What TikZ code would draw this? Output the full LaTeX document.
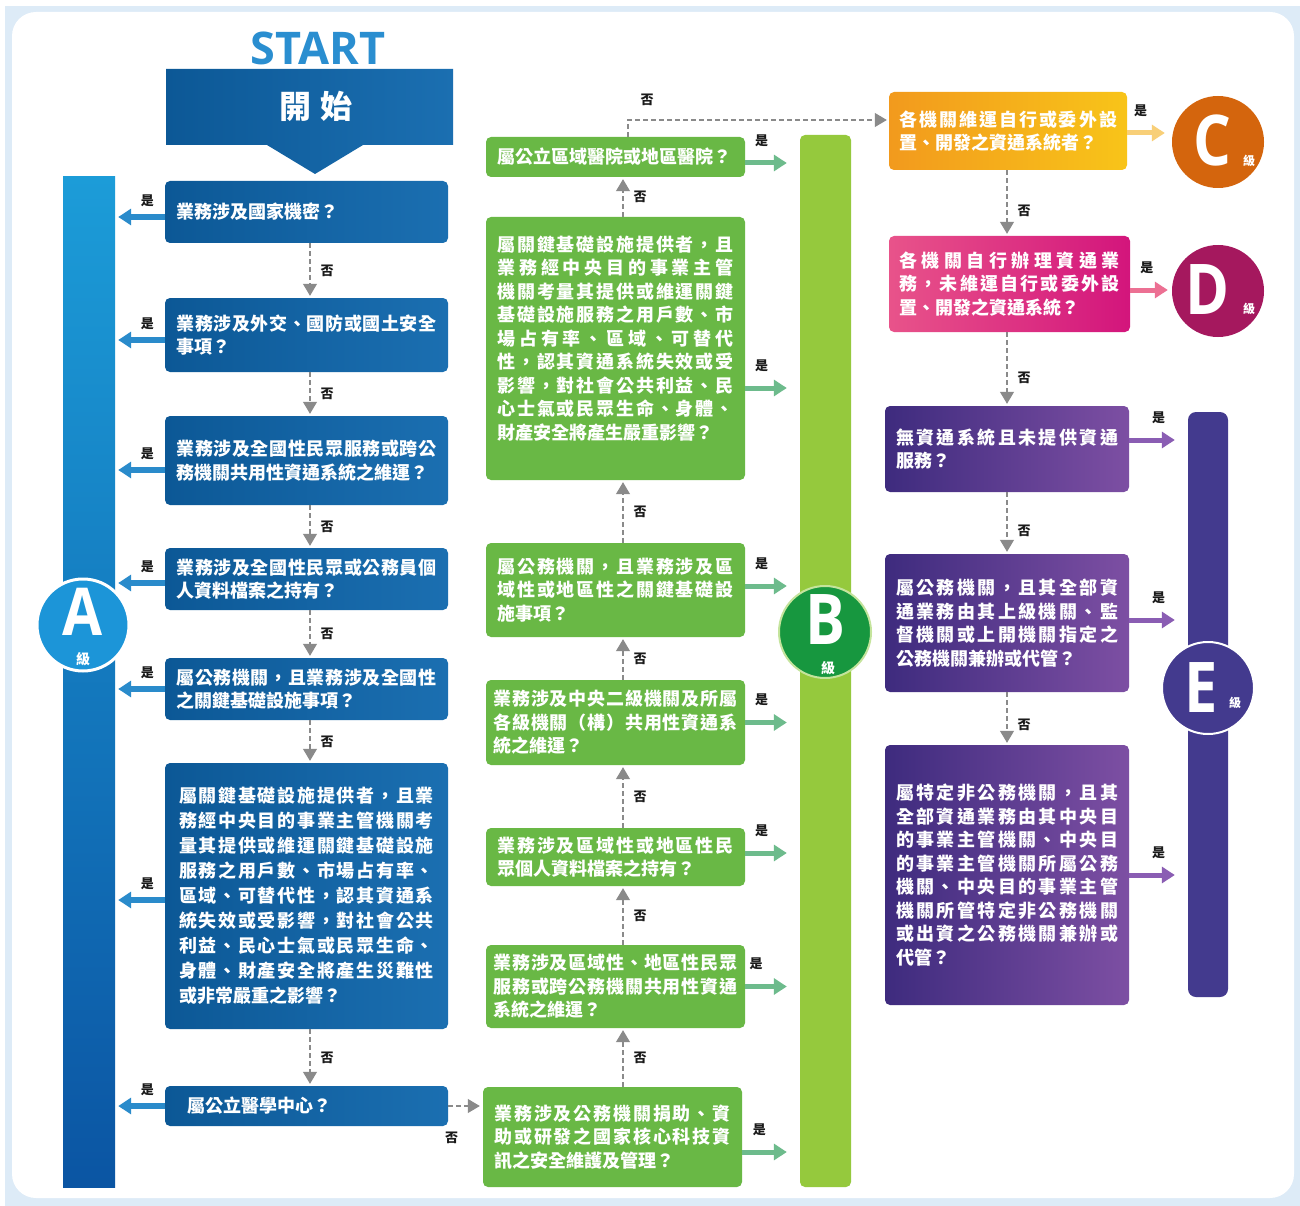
\documentclass[tikz,border=0pt]{standalone}
\usepackage{fontspec}
\usepackage{graphicx}
\setmainfont{Noto Sans CJK TC}
\newfontfamily\latf{Open Sans}
\usetikzlibrary{arrows.meta,calc}
\makeatletter
\newcommand\jline[1]{\noindent\hbox to\hsize{\@tfor\jx:=#1\do{\jx\hfil}\unskip}\par}
\makeatother
\newcommand\nline[1]{\noindent\hbox{#1}\par}
\definecolor{framecol}{HTML}{DDEBF7}
\definecolor{startblue}{HTML}{2A8ED0}
\definecolor{lL}{HTML}{0C5896}
\definecolor{lR}{HTML}{1B6FB1}
\definecolor{aT}{HTML}{1C9CD8}
\definecolor{aB}{HTML}{0B55A3}
\definecolor{acirc}{HTML}{1C95D8}
\definecolor{mgreen}{HTML}{69B845}
\definecolor{bbar}{HTML}{95C93D}
\definecolor{bcirc}{HTML}{17973F}
\definecolor{bring}{HTML}{C4E49C}
\definecolor{cL}{HTML}{F29A1D}
\definecolor{cR}{HTML}{F8C419}
\definecolor{ccirc}{HTML}{D4650D}
\definecolor{dL}{HTML}{E8538A}
\definecolor{dR}{HTML}{D3157C}
\definecolor{dcirc}{HTML}{A5185E}
\definecolor{eL}{HTML}{3E2B7E}
\definecolor{eR}{HTML}{7D4FA3}
\definecolor{ebar}{HTML}{433A8E}
\definecolor{yA}{HTML}{2A8BCB}
\definecolor{yB}{HTML}{6DBB8C}
\definecolor{yC}{HTML}{F8CF78}
\definecolor{yD}{HTML}{EC7093}
\definecolor{yE}{HTML}{8A5DB3}
\definecolor{nogray}{HTML}{8A8A8A}
\definecolor{labcol}{HTML}{1A1A1A}
\begin{document}
\begin{tikzpicture}[x=1pt,y=-1pt,
  box/.style={rounded corners=5pt, inner ysep=0pt, text=white, align=left,
    font=\fontsize{18pt}{23.5pt}\selectfont\bfseries},
  lbox/.style={box, left color=lL, right color=lR},
  mbox/.style={box, fill=mgreen},
  cbox/.style={box, left color=cL, right color=cR},
  dbox/.style={box, left color=dL, right color=dR},
  ebox/.style={box, left color=eL, right color=eR},
  noarr/.style={draw=nogray, line width=1.1pt, dash pattern=on 5pt off 3pt,
    -{Triangle[length=12pt,width=14pt]}, shorten >=2pt},
  yesbase/.style={-{Triangle[length=13pt,width=16pt]}},
  yesA/.style={yesbase, draw=yA, line width=6pt, shorten >=3pt},
  yesB/.style={yesbase, draw=yB, line width=5pt, shorten >=13pt},
  yesC/.style={yesbase, draw=yC, line width=5pt, shorten >=7pt},
  yesD/.style={yesbase, draw=yD, line width=5pt, shorten >=4pt},
  yesE/.style={yesbase, draw=yE, line width=5pt, shorten >=13pt},
  lab/.style={inner sep=1pt, text=labcol, font=\fontsize{13pt}{13pt}\selectfont\bfseries},
  yeslab/.style={lab, above=6pt},
  nolab/.style={lab, right=9pt},
  bigletter/.style={inner sep=0pt, text=white, font=\latf\bfseries\fontsize{70pt}{70pt}\selectfont},
  gradelab/.style={inner sep=0pt, text=white, font=\fontsize{14pt}{14pt}\selectfont\bfseries}
]
\useasboundingbox (0,0) rectangle (1300,1206);
\fill[white] (0,0) rectangle (1300,1206);
\fill[framecol] (5,6) rectangle (1300,1206);
\fill[white, rounded corners=24pt] (12,12) rectangle (1294,1198);

% column guide coordinates
\coordinate (lx) at (310,0);
\coordinate (mx) at (623,0);
\coordinate (mc) at (628,0);
\coordinate (rx) at (1007,0);

% START
\node[inner sep=0pt, text=startblue, font=\latf\bfseries\fontsize{45pt}{45pt}\selectfont] (startlbl) at (318,48) {START};
\shade[left color=lL, right color=lR] (166,69) -- (453,69) -- (453,145) -- (363,145) -- (315,174) -- (267,145) -- (166,145) -- cycle;
\node[inner sep=0pt, text=white, font=\fontsize{32pt}{32pt}\selectfont\bfseries] (startnode) at (316,106) {開\hspace{10pt}始};

% bars
\node[inner sep=0pt, minimum width=52pt, minimum height=1010pt, top color=aT, bottom color=aB] (Abar) at (89,682) {};
\node[inner sep=0pt, minimum width=51pt, minimum height=1052pt, fill=bbar, rounded corners=5pt] (Bbar) at (825.5,661) {};
\node[inner sep=0pt, minimum width=40pt, minimum height=585pt, fill=ebar, rounded corners=8pt] (Ebar) at (1208,704.5) {};

% circles
\node[circle, inner sep=0pt, minimum size=92pt, fill=acirc, draw=white, line width=3pt] (Acirc) at (83,625) {};
\node[bigletter, font=\latf\bfseries\fontsize{66pt}{66pt}\selectfont] (Alet) at (83,612) {\scalebox{0.88}[1]{A}};
\node[gradelab] (Aji) at (83,659) {級};

\node[circle, inner sep=0pt, minimum size=92pt, fill=bcirc, draw=bring, line width=2pt] (Bcirc) at (825,632) {};
\node[bigletter] (Blet) at (825,620) {\scalebox{0.85}[1]{B}};
\node[gradelab] (Bji) at (828,668) {級};

\node[circle, inner sep=0pt, minimum size=92pt, fill=ccirc] (Ccirc) at (1218,142) {};
\node[bigletter] (Clet) at (1212,140) {\scalebox{0.85}[1]{C}};
\node[gradelab, font=\fontsize{12pt}{12pt}\selectfont\bfseries] (Cji) at (1249,161) {級};

\node[circle, inner sep=0pt, minimum size=92pt, fill=dcirc] (Dcirc) at (1218,291) {};
\node[bigletter] (Dlet) at (1208,290) {\scalebox{0.85}[1]{D}};
\node[gradelab, font=\fontsize{12pt}{12pt}\selectfont\bfseries] (Dji) at (1249,309) {級};

\node[circle, inner sep=0pt, minimum size=92pt, fill=ebar, draw=white, line width=2pt] (Ecirc) at (1208,688) {};
\node[bigletter] (Elet) at (1201,688) {\scalebox{0.85}[1]{E}};
\node[gradelab, font=\fontsize{12pt}{12pt}\selectfont\bfseries] (Eji) at (1235,703) {級};

% left column boxes
\node[lbox, text width=260pt, inner xsep=11.5pt, minimum height=62pt] (L1) at (306.5,212) {\nline{業務涉及國家機密？}};
\node[lbox, text width=260pt, inner xsep=11.5pt, minimum height=74pt] (L2) at (306.5,335) {\jline{業務涉及外交、國防或國土安全}\nline{事項？}};
\node[lbox, text width=260pt, inner xsep=11.5pt, minimum height=89pt] (L3) at (306.5,460.5) {\jline{業務涉及全國性民眾服務或跨公}\nline{務機關共用性資通系統之維運？}};
\node[lbox, text width=260pt, inner xsep=11.5pt, minimum height=62pt] (L4) at (306.5,579) {\jline{業務涉及全國性民眾或公務員個}\nline{人資料檔案之持有？}};
\node[lbox, text width=260pt, inner xsep=11.5pt, minimum height=62pt] (L5) at (306.5,689) {\jline{屬公務機關，且業務涉及全國性}\nline{之關鍵基礎設施事項？}};
\node[lbox, text width=255pt, inner xsep=14pt, minimum height=266pt, font=\fontsize{18pt}{25pt}\selectfont\bfseries] (L6) at (306.5,896) {\jline{屬關鍵基礎設施提供者，且業}\jline{務經中央目的事業主管機關考}\jline{量其提供或維運關鍵基礎設施}\jline{服務之用戶數、市場占有率、}\jline{區域、可替代性，認其資通系}\jline{統失效或受影響，對社會公共}\jline{利益、民心士氣或民眾生命、}\jline{身體、財產安全將產生災難性}\nline{或非常嚴重之影響？}};
\node[lbox, text width=260pt, inner xsep=11.5pt, minimum height=40pt] (L7) at (306.5,1106) {\nline{\hspace*{11pt}屬公立醫學中心？}};

% middle column boxes
\node[mbox, text width=236pt, inner xsep=11.5pt, minimum height=40pt] (M1) at (615.5,157) {\nline{屬公立區域醫院或地區醫院？}};
\node[mbox, text width=236pt, inner xsep=11.5pt, minimum height=263pt] (M2) at (615.5,348.5) {\jline{屬關鍵基礎設施提供者，且}\jline{業務經中央目的事業主管}\jline{機關考量其提供或維運關鍵}\jline{基礎設施服務之用戶數、市}\jline{場占有率、區域、可替代}\jline{性，認其資通系統失效或受}\jline{影響，對社會公共利益、民}\jline{心士氣或民眾生命、身體、}\nline{財產安全將產生嚴重影響？}\vspace*{20pt}};
\node[mbox, text width=236pt, inner xsep=11.5pt, minimum height=94pt] (M3) at (615.5,590) {\jline{屬公務機關，且業務涉及區}\jline{域性或地區性之關鍵基礎設}\nline{施事項？}};
\node[mbox, text width=244pt, inner xsep=7.5pt, minimum height=85pt] (M4) at (615.5,722.5) {\jline{業務涉及中央二級機關及所屬}\jline{各級機關（構）共用性資通系}\nline{統之維運？}};
\node[mbox, text width=236pt, inner xsep=11.5pt, minimum height=58pt] (M5) at (615.5,857) {\jline{業務涉及區域性或地區性民}\nline{眾個人資料檔案之持有？}};
\node[mbox, text width=244pt, inner xsep=7.5pt, minimum height=83pt] (M6) at (615.5,986.5) {\jline{業務涉及區域性、地區性民眾}\jline{服務或跨公務機關共用性資通}\nline{系統之維運？}};
\node[mbox, text width=236pt, inner xsep=11.5pt, minimum height=100pt] (M7) at (612.5,1137) {\jline{業務涉及公務機關捐助、資}\jline{助或研發之國家核心科技資}\nline{訊之安全維護及管理？}};

% right column boxes
\node[cbox, text width=218pt, inner xsep=10pt, minimum height=78pt] (C) at (1008,131) {\jline{各機關維運自行或委外設}\nline{置、開發之資通系統者？}};
\node[dbox, text width=220pt, inner xsep=10.5pt, minimum height=96pt] (D) at (1009.5,284) {\jline{各機關自行辦理資通業}\jline{務，未維運自行或委外設}\nline{置、開發之資通系統？}};
\node[ebox, text width=222pt, inner xsep=11pt, minimum height=86pt] (E1) at (1007,449) {\jline{無資通系統且未提供資通}\nline{服務？}};
\node[ebox, text width=222pt, inner xsep=11pt, minimum height=138pt] (E2) at (1007,623) {\jline{屬公務機關，且其全部資}\jline{通業務由其上級機關、監}\jline{督機關或上開機關指定之}\nline{公務機關兼辦或代管？}};
\node[ebox, text width=222pt, inner xsep=11pt, minimum height=260pt] (E3) at (1007,875) {\jline{屬特定非公務機關，且其}\jline{全部資通業務由其中央目}\jline{的事業主管機關、中央目}\jline{的事業主管機關所屬公務}\jline{機關、中央目的事業主管}\jline{機關所管特定非公務機關}\jline{或出資之公務機關兼辦或}\nline{代管？}};

% "no" connectors, left column (downwards)
\foreach \a/\b in {L1/L2,L2/L3,L3/L4,L4/L5,L5/L6,L6/L7}
  \draw[noarr] (\a.south -| lx) -- node[nolab]{否} (\b.north -| lx);
% left bottom to middle bottom
\draw[noarr, shorten >=3pt] (L7.east) -- node[lab, pos=0.1, below=24pt]{否} (L7.east -| M7.west);
% middle column (upwards)
\foreach \a/\b in {M7/M6,M6/M5,M5/M4,M4/M3,M3/M2,M2/M1}
  \draw[noarr] (\a.north -| mx) -- node[nolab]{否} (\b.south -| mx);
% middle top to C
\draw[noarr] (M1.north -| mc) |- node[lab, pos=0.5, xshift=19pt, yshift=20pt]{否} ([yshift=11pt]C.west);
% right column (downwards)
\foreach \a/\b in {C/D,D/E1,E1/E2,E2/E3}
  \draw[noarr] (\a.south -| rx) -- node[nolab, pos=0.62]{否} (\b.north -| rx);

% "yes" connectors
\draw[yesA] ([yshift=-5pt]L1.west) -- node[yeslab, pos=.35]{是} ([yshift=-5pt]L1.west -| Abar.east);
\draw[yesA] ([yshift=-5pt]L2.west) -- node[yeslab, pos=.35]{是} ([yshift=-5pt]L2.west -| Abar.east);
\draw[yesA] ([yshift=-9.5pt]L3.west) -- node[yeslab, pos=.35]{是} ([yshift=-9.5pt]L3.west -| Abar.east);
\draw[yesA] ([yshift=-4pt]L4.west) -- node[yeslab, pos=.35]{是} ([yshift=-4pt]L4.west -| Abar.east);
\draw[yesA] (L5.west) -- node[yeslab, pos=.35]{是} (L5.west -| Abar.east);
\draw[yesA] ([yshift=-4pt]L6.west) -- node[yeslab, pos=.35]{是} ([yshift=-4pt]L6.west -| Abar.east);
\draw[yesA] (L7.west) -- node[yeslab, pos=.35]{是} (L7.west -| Abar.east);

\draw[yesB] ([yshift=-6pt]M1.east) -- node[yeslab, pos=.3, above=7pt]{是} ([yshift=-6pt]M1.east -| Bbar.west);
\draw[yesB] ([yshift=-39.5pt]M2.east) -- node[yeslab, pos=.3, above=7pt]{是} ([yshift=-39.5pt]M2.east -| Bbar.west);
\draw[yesB] ([yshift=4pt]M3.east) -- node[yeslab, pos=.3, above=7pt]{是} ([yshift=4pt]M3.east -| Bbar.west);
\draw[yesB] (M4.east) -- node[yeslab, pos=.3, above=7pt]{是} (M4.east -| Bbar.west);
\draw[yesB] ([yshift=4pt]M5.east) -- node[yeslab, pos=.3, above=7pt]{是} ([yshift=4pt]M5.east -| Bbar.west);
\draw[yesB] (M6.east) -- node[yeslab, pos=.2, above=7pt]{是} (M6.east -| Bbar.west);
\draw[yesB] ([yshift=-15pt]M7.east) -- node[yeslab, pos=.3, above=7pt]{是} ([yshift=-15pt]M7.east -| Bbar.west);

\draw[yesC] ([yshift=-2pt]C.east) -- node[yeslab, pos=.3, above=7pt]{是} ([yshift=-2pt]C.east -| Ccirc.west);
\draw[yesD] ([yshift=-6pt]D.east) -- node[yeslab, pos=.4, above=7pt]{是} ([yshift=-6pt]D.east -| Dcirc.west);
\draw[yesE] ([yshift=9pt]E1.east) -- node[yeslab, pos=.5, above=7pt]{是} ([yshift=9pt]E1.east -| Ebar.west);
\draw[yesE] ([yshift=3pt]E2.east) -- node[yeslab, pos=.5, above=7pt]{是} ([yshift=3pt]E2.east -| Ebar.west);
\draw[yesE] (E3.east) -- node[yeslab, pos=.5, above=7pt]{是} (E3.east -| Ebar.west);
\end{tikzpicture}
\end{document}
